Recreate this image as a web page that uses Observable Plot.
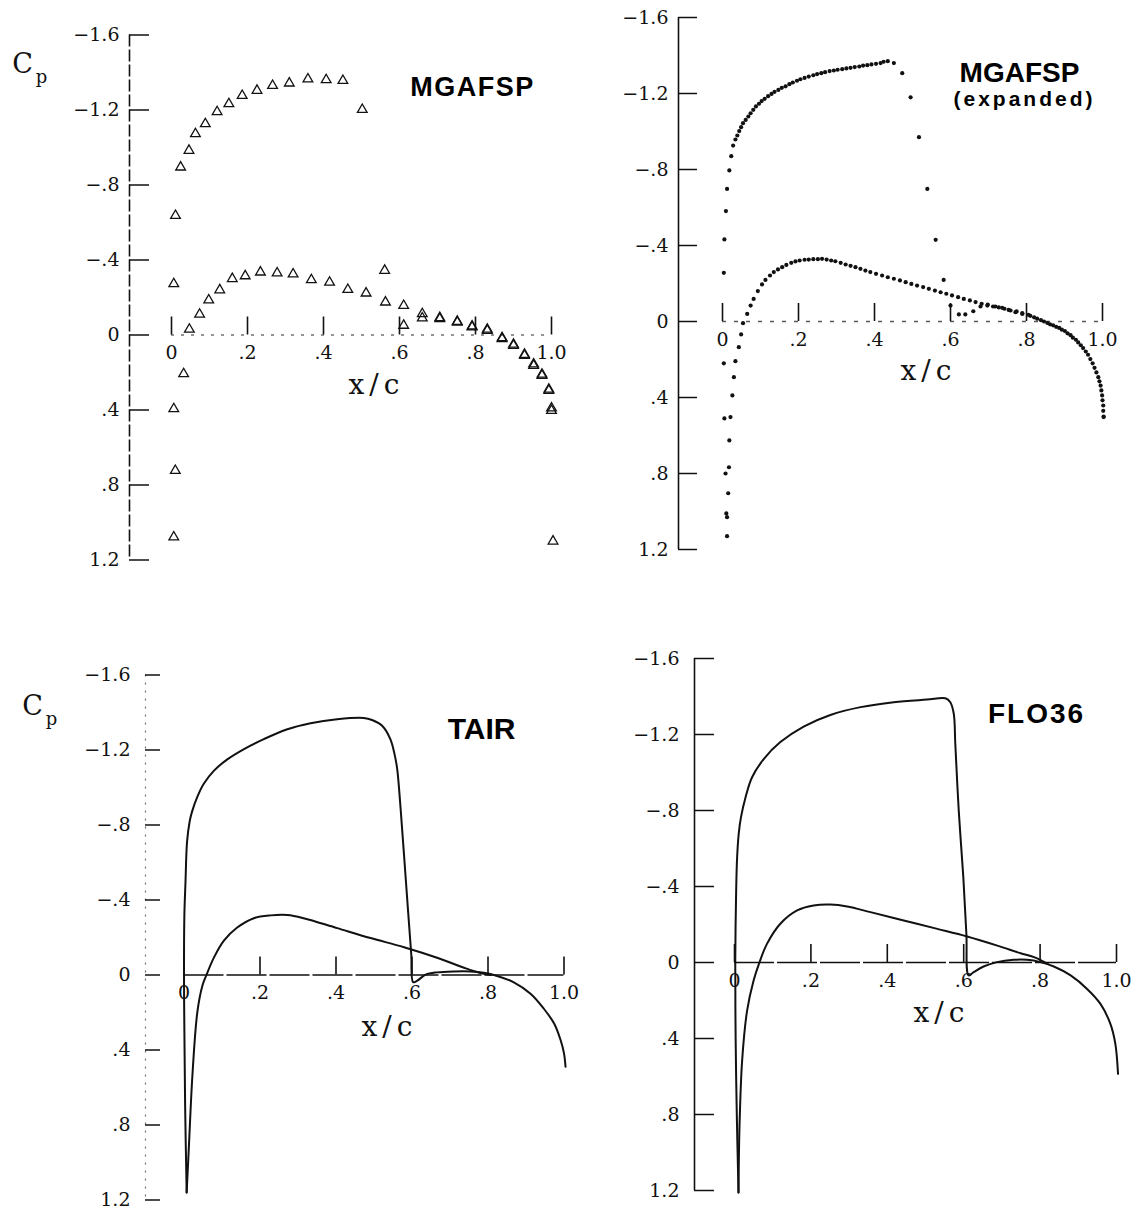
<!DOCTYPE html>
<html><head><meta charset="utf-8">
<script src="https://cdn.jsdelivr.net/npm/d3@7"></script>
<script src="https://cdn.jsdelivr.net/npm/@observablehq/plot@0.6"></script>
<style>
body{margin:0;background:#fff;}
#wrap{position:relative;width:1140px;height:1209px;overflow:hidden;background:#fff;}
#wrap svg{position:absolute;overflow:visible;background:transparent !important;max-width:none;}
</style></head><body><div id="wrap"></div>
<script>
// ---------- tick values & labels ----------
const xTicks = [0, 0.2, 0.4, 0.6, 0.8, 1.0];
const xTickLabels = ["0", ".2", ".4", ".6", ".8", "1.0"];
const yTicks = [-1.6, -1.2, -0.8, -0.4, 0, 0.4, 0.8, 1.2];
const yTickLabels = ["\u22121.6", "\u22121.2", "\u2212.8", "\u2212.4", "0", ".4", ".8", "1.2"];
const panelTitles = ["MGAFSP", "MGAFSP", "TAIR", "FLO36"];
const expandedNote = "(expanded)";
const xLabel = "x/c";
const yLabelMain = "C";
const yLabelSub = "p";

// ---------- MGAFSP (triangles) : [x/c, Cp] ----------
const mgafspUpper = [
  [0.006,1.078],[0.010,0.723],[0.006,0.394],[0.006,-0.273],[0.0105,-0.637],[0.024,-0.895],
  [0.046,-0.984],[0.063,-1.073],[0.089,-1.126],[0.120,-1.190],[0.151,-1.233],[0.186,-1.277],
  [0.225,-1.304],[0.266,-1.330],[0.310,-1.343],[0.359,-1.365],[0.407,-1.361],[0.451,-1.357],
  [0.502,-1.202],[0.561,-0.344],[0.611,-0.051],[0.660,-0.090],[0.706,-0.086],[0.752,-0.068],
  [0.791,-0.042],[0.831,-0.024],[0.870,0.020],[0.900,0.056],[0.929,0.109],[0.953,0.163],
  [0.975,0.216],[0.993,0.296],[1.000,0.403]
];
const mgafspLower = [
  [0.032,0.207],[0.047,-0.030],[0.074,-0.110],[0.098,-0.186],[0.127,-0.240],[0.160,-0.300],
  [0.194,-0.315],[0.234,-0.335],[0.278,-0.330],[0.320,-0.325],[0.368,-0.294],[0.416,-0.281],
  [0.464,-0.242],[0.512,-0.223],[0.563,-0.175],[0.611,-0.157],[0.660,-0.113],[0.706,-0.092],
  [0.752,-0.072],[0.791,-0.047],[0.831,-0.030],[0.870,0.015],[0.900,0.050],[0.929,0.104],
  [0.953,0.155],[0.975,0.210],[0.993,0.290],[1.000,0.390],[1.004,1.100]
];

// ---------- MGAFSP expanded (dots) : [x/c, Cp] ----------
const expUpper = [
  [0.010,1.010],[0.008,0.800],[0.005,0.510],[0.0035,0.220],[0.0035,-0.256],[0.005,-0.432],
  [0.009,-0.581],[0.012,-0.698],[0.018,-0.795],[0.023,-0.870],[0.028,-0.926],[0.034,-0.958],
  [0.039,-0.979],[0.044,-1.002],[0.049,-1.023],[0.054,-1.044],[0.061,-1.061],[0.068,-1.079],
  [0.074,-1.096],[0.081,-1.114],[0.088,-1.132],[0.096,-1.146],[0.103,-1.160],[0.111,-1.172],
  [0.120,-1.186],[0.129,-1.198],[0.137,-1.209],[0.147,-1.219],[0.156,-1.230],[0.166,-1.238],
  [0.176,-1.249],[0.185,-1.258],[0.196,-1.267],[0.205,-1.275],[0.216,-1.282],[0.227,-1.289],
  [0.239,-1.296],[0.249,-1.302],[0.260,-1.307],[0.270,-1.312],[0.282,-1.318],[0.293,-1.321],
  [0.303,-1.325],[0.315,-1.328],[0.326,-1.332],[0.337,-1.335],[0.348,-1.339],[0.360,-1.342],
  [0.370,-1.347],[0.381,-1.349],[0.392,-1.353],[0.404,-1.356],[0.416,-1.360],[0.424,-1.367],
  [0.435,-1.370],[0.451,-1.360],[0.473,-1.307],[0.495,-1.180],[0.517,-0.970],[0.539,-0.698],
  [0.561,-0.430],[0.582,-0.219],[0.600,-0.084],[0.622,-0.037],[0.639,-0.037],[0.660,-0.054],
  [0.679,-0.079],[0.698,-0.089],[0.718,-0.079],[0.736,-0.072],[0.753,-0.061],[0.771,-0.049],
  [0.789,-0.040],[0.810,-0.030],[0.828,-0.015],[0.846,0.000],[0.862,0.015],[0.878,0.028],
  [0.893,0.043],[0.908,0.062],[0.922,0.085],[0.936,0.110],[0.949,0.140],[0.962,0.175],
  [0.974,0.220],[0.984,0.268],[0.992,0.315],[0.997,0.363],[1.000,0.415],[1.002,0.470],[1.003,0.503]
];
const expLower = [
  [0.012,1.130],[0.012,1.030],[0.015,0.904],[0.017,0.767],[0.018,0.626],[0.021,0.503],
  [0.026,0.389],[0.030,0.293],[0.034,0.209],[0.043,0.135],[0.049,0.068],[0.054,0.009],
  [0.065,-0.040],[0.074,-0.084],[0.082,-0.119],[0.093,-0.160],[0.104,-0.195],[0.113,-0.219],
  [0.125,-0.242],[0.135,-0.260],[0.146,-0.274],[0.157,-0.286],[0.168,-0.298],[0.181,-0.309],
  [0.192,-0.316],[0.203,-0.321],[0.216,-0.325],[0.227,-0.326],[0.239,-0.328],[0.251,-0.328],
  [0.262,-0.330],[0.274,-0.326],[0.286,-0.321],[0.297,-0.317],[0.311,-0.309],[0.324,-0.300],
  [0.337,-0.293],[0.350,-0.286],[0.363,-0.277],[0.376,-0.268],[0.389,-0.260],[0.404,-0.251],
  [0.420,-0.242],[0.435,-0.233],[0.451,-0.225],[0.467,-0.216],[0.482,-0.207],[0.497,-0.198],
  [0.512,-0.189],[0.528,-0.181],[0.543,-0.172],[0.559,-0.163],[0.574,-0.154],[0.589,-0.146],
  [0.604,-0.137],[0.620,-0.128],[0.635,-0.119],[0.651,-0.111],[0.666,-0.102],[0.682,-0.093],
  [0.697,-0.084],[0.712,-0.079],[0.727,-0.074],[0.742,-0.067],[0.758,-0.058],[0.774,-0.053],
  [0.789,-0.044],[0.805,-0.035],[0.820,-0.022],[0.838,-0.007],[0.855,0.008],[0.870,0.020],
  [0.886,0.034],[0.901,0.050],[0.916,0.072],[0.930,0.096],[0.943,0.125],[0.956,0.158],
  [0.968,0.198],[0.979,0.244],[0.989,0.293],[0.995,0.337],[0.999,0.389],[1.002,0.442],[1.003,0.500]
];

// ---------- TAIR (lines) : [x/c, Cp] ----------
const tairUpper = [
  [0.007,1.160],[0.003,0.700],[0.001,0.300],[0.000,0.000],[0.001,-0.320],[0.004,-0.500],
  [0.008,-0.710],[0.015,-0.820],[0.021,-0.870],[0.035,-0.950],[0.052,-1.020],[0.079,-1.090],
  [0.114,-1.150],[0.158,-1.205],[0.210,-1.258],[0.272,-1.311],[0.333,-1.343],[0.403,-1.364],
  [0.473,-1.371],[0.495,-1.360],[0.522,-1.328],[0.543,-1.258],[0.554,-1.178],[0.561,-1.099],
  [0.570,-0.888],[0.579,-0.641],[0.589,-0.359],[0.598,-0.112],[0.603,0.038],[0.614,0.030],
  [0.636,-0.002],[0.666,-0.014],[0.710,-0.019],[0.754,-0.019],[0.789,-0.012],[0.824,0.005],
  [0.868,0.039],[0.912,0.100],[0.947,0.180],[0.974,0.259],[0.991,0.347],[1.000,0.418],[1.004,0.489]
];
const tairLower = [
  [0.007,1.160],[0.013,0.910],[0.022,0.540],[0.035,0.200],[0.048,0.060],[0.059,0.000],
  [0.079,-0.094],[0.105,-0.183],[0.140,-0.253],[0.184,-0.303],[0.228,-0.318],[0.272,-0.320],
  [0.315,-0.303],[0.403,-0.250],[0.491,-0.197],[0.579,-0.148],[0.666,-0.092],[0.737,-0.039],
  [0.780,-0.011],[0.807,0.000]
];

// ---------- FLO36 (lines) : [x/c, Cp] ----------
const flo36Upper = [
  [0.0105,1.210],[0.006,0.800],[0.003,0.400],[0.002,-0.010],[0.0035,-0.274],[0.0065,-0.537],
  [0.011,-0.677],[0.017,-0.765],[0.029,-0.870],[0.046,-0.975],[0.077,-1.072],[0.120,-1.160],
  [0.181,-1.242],[0.251,-1.303],[0.330,-1.344],[0.417,-1.370],[0.504,-1.384],[0.552,-1.391],
  [0.565,-1.370],[0.574,-1.309],[0.578,-1.151],[0.587,-0.800],[0.599,-0.449],[0.607,-0.151],
  [0.613,0.068],[0.626,0.051],[0.652,0.021],[0.687,-0.002],[0.731,-0.014],[0.766,-0.014],
  [0.801,-0.002],[0.836,0.021],[0.880,0.068],[0.923,0.139],[0.958,0.218],[0.984,0.323],
  [0.997,0.428],[1.004,0.586]
];
const flo36Lower = [
  [0.0105,1.210],[0.013,0.870],[0.020,0.516],[0.033,0.253],[0.050,0.095],[0.064,0.007],
  [0.085,-0.098],[0.120,-0.204],[0.164,-0.274],[0.207,-0.300],[0.251,-0.305],[0.295,-0.295],
  [0.356,-0.265],[0.443,-0.221],[0.531,-0.177],[0.609,-0.137],[0.688,-0.089],[0.749,-0.049],
  [0.784,-0.028],[0.820,0.007]
];

// ---------- layout ----------
const SERIF = "DejaVu Serif";
const SANS = "Liberation Sans, Arial, Helvetica, sans-serif";

function panel(cfg) {
  const mT = 6, mB = 2, mR = 8;
  const marginLeft = cfg.axisPx - cfg.left;
  const xDomain = [(cfg.axisPx - cfg.px0) / cfg.ppuX, (cfg.left + cfg.width - mR - cfg.px0) / cfg.ppuX];
  const yDomain = [(cfg.top + mT - cfg.py0) / cfg.ppuY, (cfg.top + cfg.height - mB - cfg.py0) / cfg.ppuY];
  const frameL = cfg.axisPx, frameT = cfg.top + mT;
  const x0 = xDomain[0];
  const ax = cfg.axisStyle || {};
  const xs = cfg.xAxisStyle || {};
  const at = (px, py) => ({frameAnchor: "top-left", dx: px - frameL, dy: py - frameT, textAnchor: "middle", lineAnchor: "middle"});
  const marks = [
    // y axis line and inward ticks
    Plot.ruleX([x0], {y1: yTicks[0], y2: yTicks[yTicks.length - 1], stroke: "#111", strokeWidth: 1.6, ...ax}),
    Plot.ruleY(yTicks, {x1: x0, x2: x0 + cfg.yTickLen / cfg.ppuX, stroke: "#111", strokeWidth: 1.5}),
    Plot.text(yTicks, {x: x0, y: d => d, text: (d, i) => yTickLabels[i], textAnchor: "end", dx: -cfg.labelGap,
      fontFamily: SERIF, fontSize: 19, fill: "#111"}),
    // x axis at Cp = 0
    Plot.ruleY([0], {x1: xTicks[0], x2: xTicks[xTicks.length - 1], stroke: "#111", strokeWidth: 1.3, ...xs}),
    Plot.ruleX(xTicks, {y1: 0, y2: -18 / cfg.ppuY, stroke: "#111", strokeWidth: 1.6}),
    Plot.text(xTicks, {x: d => d, y: 0, text: (d, i) => xTickLabels[i], dy: 18, fontFamily: SERIF, fontSize: 19, fill: "#111"}),
    Plot.text([xLabel], {...at(cfg.xl[0], cfg.xl[1]), fontFamily: SERIF, fontSize: 28, fill: "#111"}),
    ...cfg.data,
    ...cfg.titles.map(t => Plot.text([t.text], {...at(t.x, t.y),
      fontFamily: SANS, fontWeight: "bold", fontSize: t.size, fill: "#000"}))
  ];
  if (cfg.cp) {
    marks.push(Plot.text([yLabelMain], {...at(cfg.cp[0], cfg.cp[1]), fontFamily: SERIF, fontSize: 27, fill: "#111"}));
    marks.push(Plot.text([yLabelSub], {...at(cfg.cp[0] + 19, cfg.cp[1] + 13), fontFamily: SERIF, fontSize: 18, fill: "#111"}));
  }
  const svg = Plot.plot({
    width: cfg.width, height: cfg.height,
    marginLeft, marginRight: mR, marginTop: mT, marginBottom: mB,
    x: {domain: xDomain, axis: null},
    y: {domain: yDomain, reverse: true, axis: null},
    style: {background: "transparent"},
    marks
  });
  svg.style.left = cfg.left + "px";
  svg.style.top = cfg.top + "px";
  // letter spacing as in the reference lettering
  d3.select(svg).selectAll("text").each(function () {
    const s = this.textContent;
    if (s === xLabel) d3.select(this).attr("letter-spacing", 5);
    const t = cfg.titles.find(t => t.text === s);
    if (t && t.ls) d3.select(this).attr("letter-spacing", t.ls);
  });
  document.getElementById("wrap").appendChild(svg);
}

const tri = data => Plot.dot(data, {x: d => d[0], y: d => d[1], symbol: "triangle", r: 3.6, stroke: "#111", strokeWidth: 1.3, fill: "none"});
const dots = data => Plot.dot(data, {x: d => d[0], y: d => d[1], r: 2.1, fill: "#111", stroke: "none"});
const curve = data => Plot.line(data, {x: d => d[0], y: d => d[1], curve: "catmull-rom", stroke: "#111", strokeWidth: 2});

panel({
  left: 0, top: 0, width: 570, height: 590,
  px0: 171, ppuX: 380, axisPx: 129, py0: 334.5, ppuY: 187.5,
  yTickLen: 20, labelGap: 10,
  axisStyle: {strokeDasharray: "12,3"},
  xAxisStyle: {strokeDasharray: "3,7", strokeOpacity: 0.6},
  xl: [376, 385], cp: [22, 64],
  titles: [{text: panelTitles[0], x: 472, y: 87, size: 27, ls: 1.5}],
  data: [tri(mgafspUpper), tri(mgafspLower)]
});
panel({
  left: 570, top: 0, width: 570, height: 590,
  px0: 722, ppuX: 380, axisPx: 678, py0: 321, ppuY: 190,
  yTickLen: 19, labelGap: 10,
  xAxisStyle: {strokeDasharray: "4,8", strokeOpacity: 0.7},
  xl: [928, 371],
  titles: [{text: panelTitles[1], x: 1019, y: 73, size: 28}, {text: expandedNote, x: 1024, y: 99, size: 21, ls: 3}],
  data: [dots(expUpper), dots(expLower)]
});
panel({
  left: 0, top: 590, width: 570, height: 619,
  px0: 183.5, ppuX: 380, axisPx: 145, py0: 974.5, ppuY: 187.5,
  yTickLen: 15, labelGap: 15,
  axisStyle: {strokeDasharray: "2,6", strokeOpacity: 0.6, strokeWidth: 1.2},
  xAxisStyle: {strokeDasharray: "40,3"},
  xl: [389, 1027], cp: [32, 706],
  titles: [{text: panelTitles[2], x: 481, y: 729, size: 30}],
  data: [curve(tairUpper), curve(tairLower)]
});
panel({
  left: 570, top: 590, width: 570, height: 619,
  px0: 734, ppuX: 382, axisPx: 694, py0: 962, ppuY: 190,
  yTickLen: 20, labelGap: 15,
  xAxisStyle: {strokeDasharray: "40,3"},
  xl: [941, 1013],
  titles: [{text: panelTitles[3], x: 1036, y: 714, size: 28, ls: 2}],
  data: [curve(flo36Upper), curve(flo36Lower)]
});
</script></body></html>
